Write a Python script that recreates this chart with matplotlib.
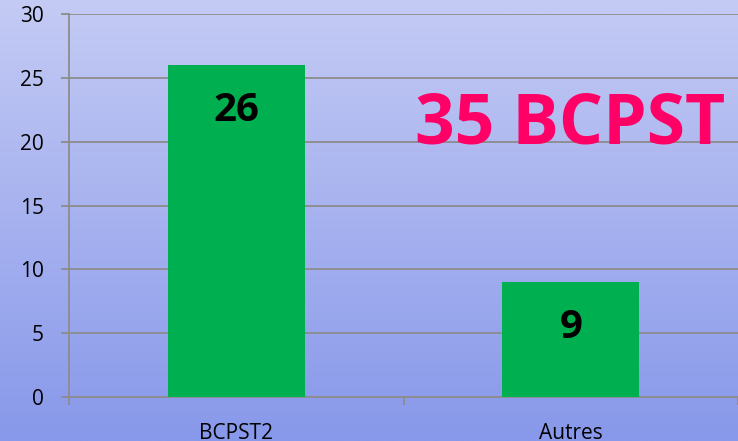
import numpy as np
import matplotlib.pyplot as plt
from matplotlib.colors import LinearSegmentedColormap

# data
categories = ['BCPST2', 'Autres']
values = [26, 9]
y_ticks = [0, 5, 10, 15, 20, 25, 30]
headline = '35 BCPST'

plt.rcParams['font.family'] = ['Open Sans', 'DejaVu Sans']

fig = plt.figure(figsize=(7.38, 4.41), dpi=100)

# gradient background over the whole figure
bg = fig.add_axes([0, 0, 1, 1], zorder=0)
grad = LinearSegmentedColormap.from_list('bg', ['#c4cbf4', '#8898ea'])
bg.imshow(np.linspace(0, 1, 256).reshape(-1, 1), aspect='auto', cmap=grad,
          extent=[0, 1, 0, 1])
bg.axis('off')

ax = fig.add_axes([69/738, 1 - 397/441, 1 - 69/738, (397 - 14)/441], zorder=1)
ax.patch.set_alpha(0)

xpos = np.arange(len(categories)) + 0.5
ax.bar(xpos, values, width=0.41, color='#00b050', zorder=3)
ax.set_xlim(0, len(categories))
ax.set_ylim(0, 30)

gray = '#8c8c8c'
ax.set_yticks(y_ticks)
ax.yaxis.grid(True, color=gray, linewidth=1.3, zorder=1)
ax.set_xticks(np.arange(len(categories) + 1))
ax.set_xticklabels([])
ax.set_xticks(xpos, minor=True)
ax.set_xticklabels(categories, minor=True)
ax.tick_params(axis='x', which='minor', length=0, pad=19, labelsize=15)
ax.tick_params(axis='x', which='major', length=6, width=1.3, color=gray, direction='out')
ax.tick_params(axis='y', length=6, width=1.3, color=gray, direction='out',
               pad=12, labelsize=15)
for s in ['top', 'right']:
    ax.spines[s].set_visible(False)
for s in ['left', 'bottom']:
    ax.spines[s].set_color(gray)
    ax.spines[s].set_linewidth(1.3)

for x, v in zip(xpos, values):
    ax.annotate(str(v), (x, v), xytext=(0, -32.5), textcoords='offset points',
                ha='center', va='center', fontsize=29, fontweight='bold',
                color='black', zorder=4)

# big headline, sized so it ends near the right edge like the original
fig.text(415/738, 1 - 143/441, headline, ha='left', va='baseline',
         fontsize=50, fontweight='bold', color='#ff0066', zorder=5)

fig.savefig('out.png', dpi=100)
